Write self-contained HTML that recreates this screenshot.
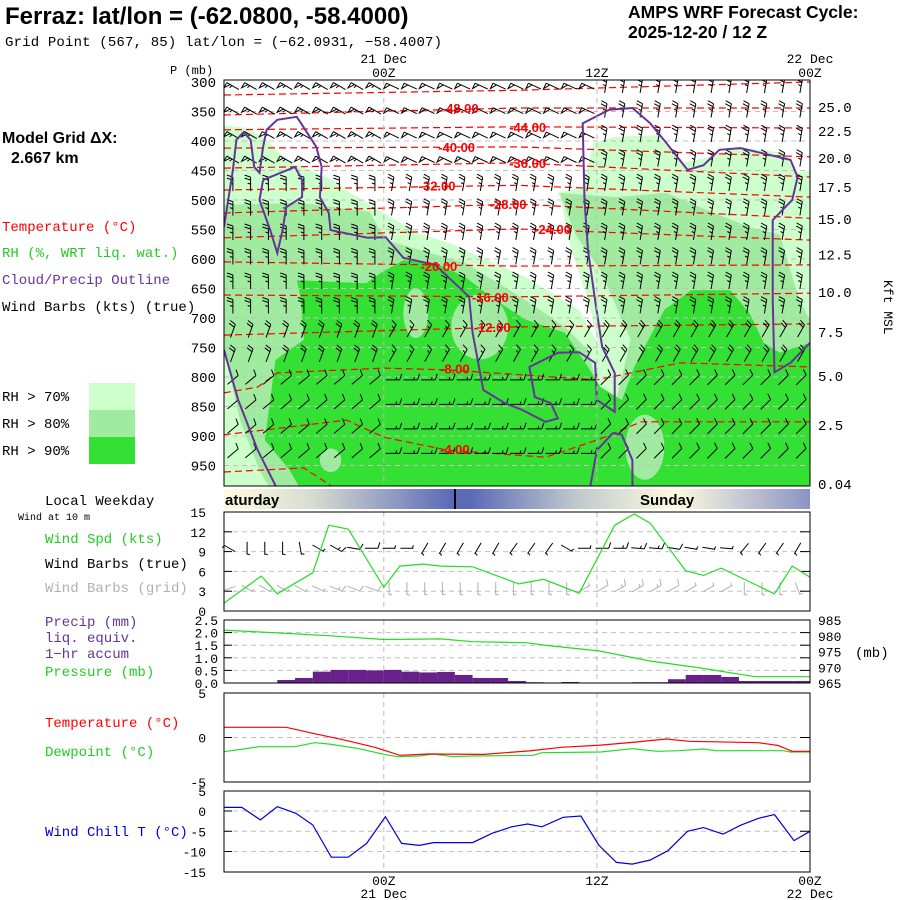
<!DOCTYPE html>
<html><head><meta charset="utf-8">
<style>
html,body{margin:0;padding:0;background:#fff;}
svg{display:block;font-family:"Liberation Sans",sans-serif;}
.mono{font-family:"Liberation Mono","DejaVu Sans Mono",monospace;}
</style></head>
<body>
<svg id="chart" width="900" height="900" viewBox="0 0 900 900" xmlns="http://www.w3.org/2000/svg">
<defs>
<linearGradient id="wkday" x1="224" y1="0" x2="810" y2="0" gradientUnits="userSpaceOnUse">
<stop offset="0" stop-color="#fffbe0"/>
<stop offset="0.15" stop-color="#d8dcd0"/>
<stop offset="0.39" stop-color="#5a6ab8"/>
<stop offset="0.42" stop-color="#5a6ab8"/>
<stop offset="0.6" stop-color="#c0c8cc"/>
<stop offset="0.77" stop-color="#fffbe0"/>
<stop offset="1" stop-color="#8a94c4"/>
</linearGradient>
<clipPath id="xsClip"><rect x="224" y="80" width="586" height="406"/></clipPath>
</defs>
<g id="root"></g>
</svg>
<script>
// ---------- data ----------
const hoursSpan = 33;
const pressureTicks = [300,350,400,450,500,550,600,650,700,750,800,850,900,950];
const kftLabels = ["25.0","22.5","20.0","17.5","15.0","12.5","10.0","7.5","5.0","2.5","0.04"];
const kftPressures = [342,383,429,478,532,592,656,724,798,881,981];
const timeTickHours = [9,21,33];
const timeTickTop = ["00Z","12Z","00Z"];
const timeTickDate = ["21 Dec","","22 Dec"];

const rhWhite = [[0,295],[33,295],[33,449],[32.3,454],[31.5,420],[28.9,410],[27.4,427],[25.8,437],[24.4,390],[22.1,393],[20.8,403],[20.2,478],[18.8,488],[19.0,500],[19.4,568],[20.5,670],[21.1,746],[20.0,686],[17.0,631],[12.7,573],[10.9,556],[9.0,522],[7.1,488],[6.1,466],[3.5,432],[2.4,398],[1.3,378],[0,373]];
const rhMid = [[0,508],[4.3,505],[8.2,520],[9.1,568],[13.6,607],[17.0,670],[19.2,715],[20.5,754],[21.2,839],[22.0,851],[22.9,737],[21.2,619],[19.8,559],[18.9,488],[22.1,495],[24.9,488],[26.8,512],[29.6,546],[31.3,559],[32.4,670],[33,703],[33,990],[2.6,990],[2.0,958],[0.9,873],[0,754]];
const rhDark = [[2.9,771],[4.5,737],[4.3,664],[4.1,636],[8.0,641],[8.8,624],[10.1,602],[11.9,607],[13.6,631],[15.3,670],[17.0,703],[19.2,725],[20.5,783],[21.2,817],[22.4,839],[23.1,783],[23.9,737],[24.8,686],[26.3,653],[28.5,653],[29.6,692],[30.4,742],[31.3,759],[33,742],[33,990],[4.3,990],[3.7,958],[2.3,907],[2.6,839]];
const rhHoleCentres = [[10.8,692],[14.4,715],[6.0,941],[23.7,919]];
const rhHoleRadii = [[0.7,42],[1.6,55],[0.6,20],[1.1,55]];

const cloudA = [[0,546],[0.5,449],[0.7,398],[1.1,385],[1.5,398],[1.7,444],[2.0,454],[2.2,410],[2.4,381],[3.0,364],[4.1,359],[5.2,410],[5.5,444],[5.4,495],[5.9,522],[6.0,551],[8.1,564],[9.1,563],[10.1,598],[11.9,610],[13.8,664],[14.0,725],[14.6,822],[15.8,844],[16.8,856],[18.1,876],[18.8,870],[18.4,844],[17.5,834],[17.2,783],[18.8,759],[20.0,758],[20.9,776],[21.0,839],[22.0,859],[22.0,793],[21.3,749],[20.9,670],[20.5,585],[20.3,500],[20.2,370],[21.7,347],[23.0,344],[24.0,370],[24.9,403],[26.1,449],[27.0,441],[27.9,415],[29.1,412],[31.9,432],[32.3,461],[32.0,500],[30.9,534],[30.9,585],[30.9,670],[31.0,792],[31.9,776],[33,742]];
const cloudB = [[2.2,466],[4.0,444],[4.4,466],[4.4,495],[3.5,512],[3.3,551],[3.0,590],[2.6,551],[2.0,500],[2.2,466]];
const cloudC = [[0,754],[0.8,839],[1.9,924],[3.0,990]];
const cloudD = [[20.6,990],[21.0,924],[21.9,895],[22.4,898],[23.0,941],[23.0,990]];

const tempLevels = [-52,-48,-44,-40,-36,-32,-28,-24,-20,-16,-12,-8,-4,0];
const tempLines = [
 [[0,322],[16.5,314],[33,300]],
 [[0,356],[16.5,344],[33,344]],
 [[0,381],[16.5,376],[33,378]],
 [[0,412],[16.5,410],[33,427]],
 [[0,446],[16.5,437],[33,461]],
 [[0,483],[16.5,475],[33,495]],
 [[0,522],[16.5,507],[33,531]],
 [[0,564],[16.5,549],[33,568]],
 [[0,605],[16.5,612],[33,610]],
 [[0,661],[16.5,664],[33,658]],
 [[0,729],[16.5,715],[33,710]],
 [[0,827],[1.9,817],[3,793],[9,785],[12.6,788],[21,805],[25.7,776],[33,783]],
 [[0,898],[6.9,873],[9,902],[12.6,924],[18.1,936],[21,907],[23.5,876],[33,876]],
 [[0,961],[4.5,954],[6.3,990]]
];
const tempLabelLevels = [-48,-44,-40,-36,-32,-28,-24,-20,-16,-12,-8,-4];
const tempLabelPos = [[13.3,344],[17.1,376],[13.1,410],[17.1,437],[12.0,475],[16.0,507],[18.5,549],[12.1,612],[15.0,664],[15.1,715],[13.0,786],[13.0,922]];

const windBandTopP = [300,450,700,800];
const windBandTimes = [0,9,21];
const windDirs = [[300,295,10],[0,10,10],[20,30,30],[50,90,45]];
const windSpds = [[55,50,25],[25,25,25],[20,15,20],[12,15,12]];

const wsHours = [0,2.1,3,5,5.9,7,9,9.9,11.2,12.2,14,16.6,18,20,22,23.1,24,26,27,28,31,32,33];
const wsValues = [1.2,5.3,2.6,5.8,13.0,12.4,3.6,6.8,7.1,6.8,6.7,4.1,4.8,2.7,13.0,14.7,13.3,6.1,5.4,6.5,2.6,6.8,5.1];
const barbTrueDirs = [300,180,180,180,170,120,120,100,90,90,90,210,210,210,210,210,215,215,215,120,90,90,90,95,95,100,100,100,95,220,215,215,210];
const barbGridDirs = [250,120,120,120,120,115,110,110,110,180,180,180,180,180,180,180,180,180,180,180,60,60,60,60,60,60,60,60,60,180,180,180,160];

const precipValues = [0,0,0,0.12,0.2,0.45,0.52,0.52,0.5,0.52,0.45,0.42,0.44,0.32,0.2,0.2,0.08,0.03,0,0.04,0,0,0,0.03,0.03,0.15,0.32,0.32,0.24,0.08,0.08,0.08,0.08];
const presHours = [0,3,6,9,12.2,14,17,18.2,21.1,24,26.8,29.9,33];
const presValues = [981.8,980.9,980,978.8,979,978.1,977.8,976.9,975.2,972,969.8,967,967];

const tHours = [0,3.5,5,6.6,8.5,9.9,11.5,14.6,17.2,19,21.2,23,24.9,26.2,30.1,31.2,32,33];
const tValues = [1.15,1.15,0.47,-0.2,-1.1,-2.0,-1.85,-1.9,-1.5,-1.1,-0.85,-0.55,-0.17,-0.43,-0.58,-0.9,-1.55,-1.55];
const tdHours = [0,2,4,5.1,5.9,7.5,9,9.8,11,11.8,12.9,13.9,17.4,17.9,21.2,23,24.4,25.6,27,27.7,31.5,31.9,33];
const tdValues = [-1.6,-1.03,-1.03,-0.58,-0.73,-1.21,-1.89,-2.16,-2.08,-1.85,-2.16,-2.08,-2.0,-1.71,-1.63,-1.26,-1.55,-1.48,-1.29,-1.48,-1.48,-1.63,-1.63];

const wcHours = [0,1,2.05,3,4.05,5,6.04,7,8.03,9.09,10,11,11.8,14,15.1,16.2,17.1,17.9,19.1,20.1,21.1,22.1,23,24,25,26.1,27,28.1,29.1,30.1,31,32.1,33];
const wcValues = [0.9,0.9,-2.2,1.07,-0.58,-3.46,-11.4,-11.4,-8.0,-1.4,-8.0,-8.5,-7.8,-7.8,-5.5,-3.9,-3.2,-3.9,-1.56,-1.23,-8.4,-12.7,-13.1,-12.1,-9.8,-5.0,-4.1,-5.7,-3.5,-1.8,-0.9,-7.3,-5.0];

const wsTicks=[0,3,6,9,12,15];
const precipTicks=["0.0","0.5","1.0","1.5","2.0","2.5"];
const presTicks=[965,970,975,980,985];
const tTicks=[-5,0,5];
const wcTicks=[-15,-10,-5,0,5];

// ---------- axes ----------
const X0=224, X1=810;
const xs = t => X0 + t*(X1-X0)/hoursSpan;
const yp = p => 82 + (p-300)/50*29.5;
const yw = v => 611 - v*6.6;
const ypr = v => 683 - v*25.2;
const yps = v => 683 - (v-965)*3.15;
const yt = v => 737.5 - v*8.9;
const ywc = v => 811 - v*4.05;

const NS="http://www.w3.org/2000/svg";
const root=document.getElementById('root');
function mk(tag, attrs, parent){const e=document.createElementNS(NS,tag);for(const k in attrs)e.setAttribute(k,attrs[k]);(parent||root).appendChild(e);return e;}
function txt(s, attrs, parent){const e=mk('text',attrs,parent);e.textContent=s;return e;}
const ptsXS = arr => arr.map(d=>xs(d[0]).toFixed(1)+','+yp(d[1]).toFixed(1)).join(' ');

// ---------- header & legends ----------
let e;
e=txt("Ferraz:  lat/lon = (-62.0800, -58.4000)",{x:5,y:24,'font-size':24,'font-weight':'bold',fill:'#000','xml:space':'preserve'});


e=txt("Grid Point (567, 85) lat/lon = (\u221262.0931, \u221258.4007)",{x:5,y:46,'font-size':14,fill:'#000',class:'mono','textLength':437});


e=txt("AMPS WRF Forecast Cycle:",{x:628,y:18,'font-size':17.5,'font-weight':'bold'});


e=txt("2025-12-20 / 12  Z",{x:628,y:38,'font-size':17.5,'font-weight':'bold','xml:space':'preserve'});


e=txt("Model Grid \u0394X:",{x:2,y:143,'font-size':16,'font-weight':'bold'});


e=txt("2.667 km",{x:11,y:163,'font-size':16,'font-weight':'bold'});



const legendItems=[
 ["Temperature (\u00b0C)","#ff0000",2,231,'legend-temperature'],
 ["RH (%, WRT liq. wat.)","#22cc22",2,257,'legend-rh'],
 ["Cloud/Precip Outline","#663399",2,284,'legend-cloud-outline'],
 ["Wind Barbs (kts) (true)","#000",2,311,'legend-wind-barbs'],
 ["Local Weekday","#000",45,505,'legend-local-weekday'],
 ["Wind Spd (kts)","#22cc22",45,543,'legend-wind-speed'],
 ["Wind Barbs (true)","#000",45,568,'legend-wind-barbs-true'],
 ["Wind Barbs (grid)","#b0b0b0",45,592,'legend-wind-barbs-grid'],
 ["Precip (mm)","#663399",45,626,'legend-precip'],
 ["liq. equiv.","#663399",45,642,'legend-precip-liq'],
 ["1\u2212hr accum","#663399",45,658,'legend-precip-accum'],
 ["Pressure (mb)","#22cc22",45,676,'legend-pressure'],
 ["Temperature (\u00b0C)","#ff0000",45,727,'legend-sfc-temperature'],
 ["Dewpoint (\u00b0C)","#22cc22",45,756,'legend-dewpoint'],
 ["Wind Chill T (\u00b0C)","#0000dd",45,836,'legend-wind-chill']
];
for(const it of legendItems){
 e=txt(it[0],{x:it[2],y:it[3],'font-size':14,fill:it[1],class:'mono'});
 
 
}
e=txt("Wind at 10 m",{x:18,y:520,'font-size':10,fill:'#000',class:'mono'});



const rhKeys=[["RH > 70%","#ccffcc",383],["RH > 80%","#a0eba0",410],["RH > 90%","#33e033",437]];
for(const k of rhKeys){
 e=mk('rect',{x:89,y:k[2],width:46,height:27,fill:k[1]});
 
 
 e=txt(k[0],{x:2,y:k[2]+18,'font-size':14,class:'mono'});
 
 
}

// ---------- cross-section ----------
const xsG=mk('g',{'clip-path':'url(#xsClip)'});


e=mk('rect',{x:224,y:80,width:586,height:406,fill:'#ccffcc'},xsG);


e=mk('polygon',{points:ptsXS(rhWhite),fill:'#ffffff'},xsG);


e=mk('polygon',{points:ptsXS(rhMid),fill:'#a0eba0'},xsG);


e=mk('polygon',{points:ptsXS(rhDark),fill:'#33e033'},xsG);


rhHoleCentres.forEach((c,i)=>{
 const r=rhHoleRadii[i];
 const el=mk('ellipse',{cx:xs(c[0]),cy:yp(c[1]),rx:r[0]*(X1-X0)/hoursSpan,ry:r[1]/50*29.5,fill:'#a0eba0'},xsG);
 
 
});
for(const p of pressureTicks){
 if(p===300) continue;
 const el=mk('line',{x1:X0,x2:X1,y1:yp(p),y2:yp(p),stroke:'#c0c0c0','stroke-dasharray':'5,4','stroke-width':1},xsG);
 
 
}
tempLines.forEach((ln,i)=>{
 const el=mk('polyline',{points:ptsXS(ln),fill:'none',stroke:'#ff0000','stroke-width':1.2,'stroke-dasharray':'7,4'},xsG);
 
 
});
function barb(g,cx,cy,dir,spd,color,len,fl){
 const r=dir*Math.PI/180, dx=Math.sin(r), dy=-Math.cos(r);
 const bx=cx-dx*len/2, by=cy-dy*len/2, tx=cx+dx*len/2, ty=cy+dy*len/2;
 let d=`M${bx.toFixed(1)},${by.toFixed(1)}L${tx.toFixed(1)},${ty.toFixed(1)}`;
 const px=dy, py=-dx;
 let s=Math.round(spd/5)*5, pos=0;
 while(s>=50){const ax=tx-dx*pos, ay=ty-dy*pos;d+=`M${ax.toFixed(1)},${ay.toFixed(1)}L${(ax+px*fl).toFixed(1)},${(ay+py*fl).toFixed(1)}L${(ax-dx*4).toFixed(1)},${(ay-dy*4).toFixed(1)}`;pos+=5;s-=50;}
 while(s>=10){const ax=tx-dx*pos, ay=ty-dy*pos;d+=`M${ax.toFixed(1)},${ay.toFixed(1)}l${(px*fl+dx*2).toFixed(1)},${(py*fl+dy*2).toFixed(1)}`;pos+=3;s-=10;}
 if(s>=5){const ax=tx-dx*(pos+1), ay=ty-dy*(pos+1);d+=`M${ax.toFixed(1)},${ay.toFixed(1)}l${(px*fl*0.5+dx).toFixed(1)},${(py*fl*0.5+dy).toFixed(1)}`;}
 return mk('path',{d:d,stroke:color,'stroke-width':1,fill:'none'},g);
}
function bandIdx(arr,v){let k=0;for(let i=0;i<arr.length;i++) if(v>=arr[i]) k=i;return k;}
const barbG=mk('g',{},xsG);


for(let row=0;row<16;row++){
 const p=307+row*41.5;
 for(let c=0;c<33;c++){
  const t=c+0.5;
  const bi=bandIdx(windBandTopP,p), ti=bandIdx(windBandTimes,t);
  const el=barb(barbG,xs(t),yp(p),windDirs[bi][ti],windSpds[bi][ti],'#000',14,6);
  
  
 }
}
[cloudA,cloudB,cloudC,cloudD].forEach(cl=>{
 const el=mk('polyline',{points:ptsXS(cl),fill:'none',stroke:'#663399','stroke-width':2},xsG);
 
 
});
tempLabelLevels.forEach((lv,i)=>{
 const el=txt(lv.toFixed(2),{x:xs(tempLabelPos[i][0]),y:yp(tempLabelPos[i][1])+5,'text-anchor':'middle','font-size':13,'font-weight':'bold',fill:'#ff0000'},xsG);
 
 
});
for(const h of [9,21]){
 const el=mk('line',{x1:xs(h),x2:xs(h),y1:80,y2:486,stroke:'#bbbbbb','stroke-dasharray':'5,4'},xsG);
 
 
}
e=mk('rect',{x:224,y:80,width:586,height:406,fill:'none',stroke:'#000','stroke-width':1});


e=txt("P (mb)",{x:170,y:74,'font-size':12,class:'mono'});


for(const p of pressureTicks){
 const el=txt(String(p),{x:216,y:yp(p)+5,'text-anchor':'end','font-size':14,class:'mono'});
 
 
}
kftLabels.forEach((l,i)=>{
 const el=txt(l,{x:818,y:yp(kftPressures[i])+5,'font-size':14,class:'mono'});
 
 
});
e=txt("Kft MSL",{x:0,y:0,'font-size':13,class:'mono',transform:'translate(884,280) rotate(90)'});


timeTickHours.forEach((h,i)=>{
 let el=txt(timeTickTop[i],{x:xs(h),y:77,'text-anchor':'middle','font-size':13,class:'mono'});
 
 
 if(timeTickDate[i]){el=txt(timeTickDate[i],{x:xs(h),y:63,'text-anchor':'middle','font-size':13,class:'mono'});
 
 }
 el=txt(timeTickTop[i],{x:xs(h),y:885,'text-anchor':'middle','font-size':13,class:'mono'});
 
 
 if(timeTickDate[i]){el=txt(timeTickDate[i],{x:xs(h),y:898,'text-anchor':'middle','font-size':13,class:'mono'});
 
 }
});

// ---------- weekday bar ----------
e=mk('rect',{x:224,y:489,width:586,height:20,fill:'url(#wkday)'});


e=mk('line',{x1:455,x2:455,y1:489,y2:509,stroke:'#000','stroke-width':2});


e=txt("aturday",{x:225,y:505,'font-size':15,'font-weight':'bold'});


e=txt("Sunday",{x:640,y:505,'font-size':15,'font-weight':'bold'});



// ---------- lower panels ----------
function panel(name,top,bot,gridYs,tickYs){
 const g=mk('g',{});
 
 
 for(const y of gridYs){const el=mk('line',{x1:X0,x2:X1,y1:y,y2:y,stroke:'#c0c0c0','stroke-dasharray':'5,4'},g);
  
  }
 for(const y of tickYs){const el=mk('line',{x1:X1-10,x2:X1,y1:y,y2:y,stroke:'#000'},g);
  
  
  const el2=mk('line',{x1:X0,x2:X0+8,y1:y,y2:y,stroke:'#000'},g);
  
  }
 for(const h of [9,21]){const el=mk('line',{x1:xs(h),x2:xs(h),y1:top,y2:bot,stroke:'#bbbbbb','stroke-dasharray':'5,4'},g);
  
  }
 return g;
}
function frame(g,top,bot){const el=mk('rect',{x:X0,y:top,width:X1-X0,height:bot-top,fill:'none',stroke:'#000'},g);
 
 }
function series(g,hs,vs,yf,color,name){
 const el=mk('polyline',{points:hs.map((h,i)=>xs(h).toFixed(1)+','+yf(vs[i]).toFixed(1)).join(' '),fill:'none',stroke:color,'stroke-width':1.2},g);
 
 
}
function ylabels(g,vals,texts,yf,x,anchor){
 vals.forEach((v,i)=>{const el=txt(texts[i],{x:x,y:yf(v)+5,'text-anchor':anchor,'font-size':13,class:'mono'},g);
  
  });
}
function interp(hs,vs,h){for(let i=1;i<hs.length;i++){if(h<=hs[i]){const f=(h-hs[i-1])/(hs[i]-hs[i-1]);return vs[i-1]+f*(vs[i]-vs[i-1]);}}return vs[vs.length-1];}

let g=panel('wind-speed-panel',512,611,[3,6,9,12].map(yw),[3,6,9,12].map(yw));
for(let h=0;h<33;h++){
 const sp=interp(wsHours,wsValues,h);
 let el=barb(g,xs(h+0.3),yw(9.5),barbTrueDirs[h],Math.max(5,sp),'#000',13,6);
 
 
 el=barb(g,xs(h+0.3),yw(3.4),barbGridDirs[h],Math.max(5,sp),'#b0b0b0',13,6);
 
 
}
series(g,wsHours,wsValues,yw,'#22dd22','wind-speed-line');
frame(g,512,611);
ylabels(g,wsTicks,wsTicks.map(String),yw,206,'end');

g=panel('precip-pressure-panel',620,683,[0.5,1.0,1.5,2.0].map(ypr),[0.5,1.0,1.5,2.0].map(ypr));
precipValues.forEach((v,i)=>{
 if(v<=0) return;
 const el=mk('rect',{x:xs(i),y:ypr(v),width:xs(i+1)-xs(i),height:683-ypr(v),fill:'#662288'},g);
 
 
});
series(g,presHours,presValues,yps,'#22dd22','pressure-line');
frame(g,620,683);
ylabels(g,[0,0.5,1,1.5,2,2.5],precipTicks,ypr,218,'end');
ylabels(g,presTicks,presTicks.map(String),yps,818,'start');
e=txt("(mb)",{x:855,y:657,'font-size':14,class:'mono'},g);



g=panel('temperature-panel',693,782,[yt(0)],[yt(0)]);
series(g,tdHours,tdValues,yt,'#22dd22','dewpoint-line');
series(g,tHours,tValues,yt,'#ff0000','temperature-line');
frame(g,693,782);
ylabels(g,tTicks,tTicks.map(String),yt,206,'end');

g=panel('wind-chill-panel',791,872,[0,-5,-10].map(ywc),[0,-5,-10].map(ywc));
series(g,wcHours,wcValues,ywc,'#0000dd','wind-chill-line');
frame(g,791,872);
ylabels(g,wcTicks,wcTicks.map(String),ywc,206,'end');
</script>
</body></html>
